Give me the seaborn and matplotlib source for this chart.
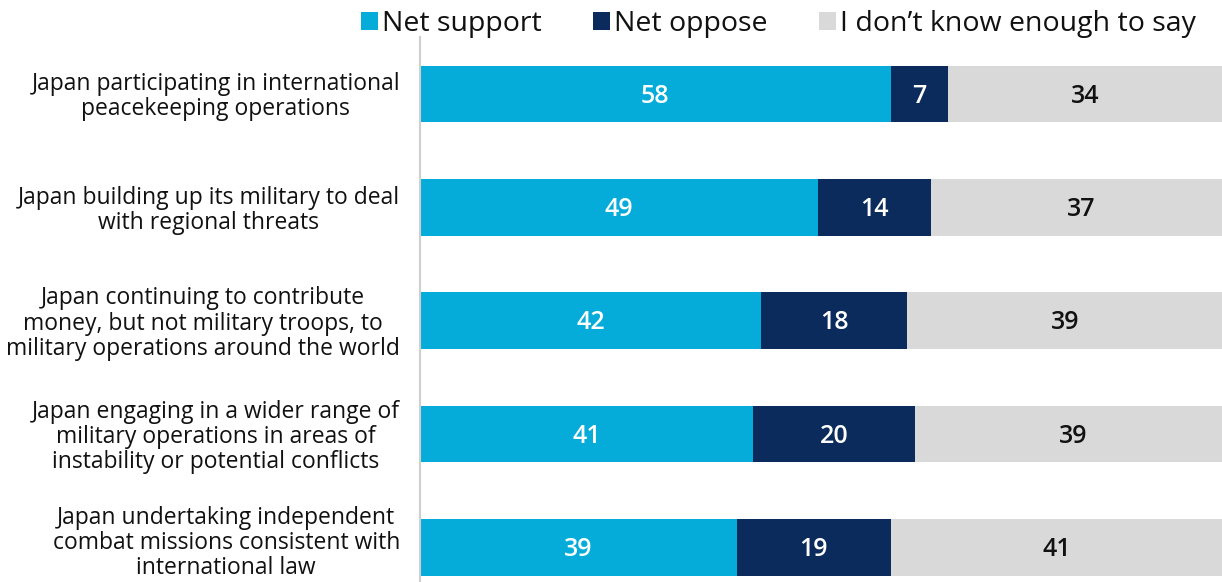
import matplotlib
matplotlib.use("Agg")
import matplotlib.pyplot as plt
import matplotlib.transforms as mtransforms
import seaborn as sns
import pandas as pd
from matplotlib.patches import Patch

categories = [
    "Japan participating in international\npeacekeeping operations",
    "Japan building up its military to deal\nwith regional threats",
    "Japan continuing to contribute\nmoney, but not military troops, to\nmilitary operations around the world",
    "Japan engaging in a wider range of\nmilitary operations in areas of\ninstability or potential conflicts",
    "Japan undertaking independent\ncombat missions consistent with\ninternational law",
]
net_support = [58, 49, 42, 41, 39]
net_oppose = [7, 14, 18, 20, 19]
dont_know = [34, 37, 39, 39, 41]
series_names = ["Net support", "Net oppose", "I don\u2019t know enough to say"]
colors = ["#06ACD9", "#0A2B5C", "#D9D9D9"]
text_colors = ["white", "white", "#111111"]

sns.set_theme(style="white")
plt.rcParams["font.family"] = ["Open Sans", "DejaVu Sans"]

df = pd.DataFrame({
    "category": categories,
    "s": net_support,
    "o": net_oppose,
    "d": dont_know,
})
df["cum1"] = df["s"]
df["cum2"] = df["s"] + df["o"]
df["cum3"] = df["s"] + df["o"] + df["d"]

fig = plt.figure(figsize=(12.22, 5.82), dpi=100)
ax = fig.add_axes([420 / 1222, 1 - 604 / 582, 1 - 420 / 1222, (604 - 37.4) / 582])

sns.barplot(data=df, y="category", x="cum3", color=colors[2], width=0.5, ax=ax,
            orient="h", saturation=1, linewidth=0)
sns.barplot(data=df, y="category", x="cum2", color=colors[1], width=0.5, ax=ax,
            orient="h", saturation=1, linewidth=0)
sns.barplot(data=df, y="category", x="cum1", color=colors[0], width=0.5, ax=ax,
            orient="h", saturation=1, linewidth=0)

ax.set_xlim(0, 98.8)
ax.set_xlabel("")
ax.set_ylabel("")
ax.set_xticks([])
for sp in ["top", "right", "bottom"]:
    ax.spines[sp].set_visible(False)
ax.spines["left"].set_color("#CFCFCF")
ax.spines["left"].set_linewidth(1.5)
ax.tick_params(axis="y", length=0)
ax.set_yticklabels([""] * len(categories))

# category labels, right aligned next to the axis, lines centred
trans = mtransforms.blended_transform_factory(ax.transAxes, ax.transData)
trans = trans + mtransforms.ScaledTranslation(-20 / 100, 0, fig.dpi_scale_trans)
for i, cat in enumerate(categories):
    dy = -0.04 if i == len(categories) - 1 else 0.025
    ax.text(0, i + dy, cat, transform=trans, ha="right", va="center",
            multialignment="center", linespacing=1.06, fontsize=16.5,
            color="#111111", clip_on=False)

for i in range(len(categories)):
    lefts = [0, net_support[i], net_support[i] + net_oppose[i]]
    vals = [net_support[i], net_oppose[i], dont_know[i]]
    for k in range(3):
        ax.text(lefts[k] + vals[k] / 2, i + 0.02, str(vals[k]), ha="center", va="center",
                color=text_colors[k], fontsize=18, fontweight="semibold")

handles = [Patch(facecolor=c, edgecolor="none") for c in colors]
fig.legend(handles, series_names, loc="upper right", bbox_to_anchor=(1.0, 1.027),
           ncol=3, frameon=False, fontsize=20.5, handlelength=0.6, handleheight=0.6,
           handletextpad=0.15, columnspacing=1.8, labelcolor="#111111")

fig.savefig("out.png", dpi=100)
